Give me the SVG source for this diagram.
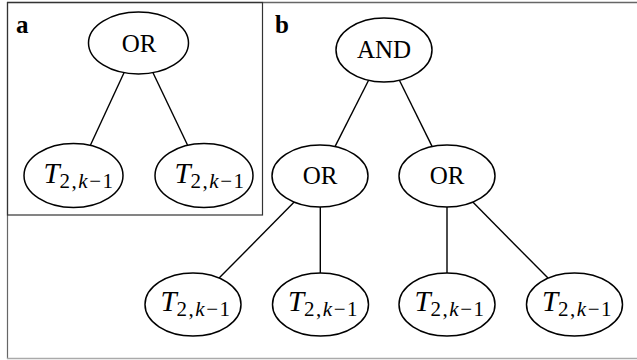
<svg xmlns="http://www.w3.org/2000/svg" width="637" height="360" viewBox="0 0 637 360">
<style>
.node ellipse{fill:#fff;stroke:#000;stroke-width:1.5}
.lbl{font-family:"Liberation Serif",serif;font-size:25px;text-anchor:middle;fill:#000}
.t{font-family:"Liberation Serif",serif;font-size:29px;text-anchor:middle;fill:#000}
.it{font-style:italic}
.sub{font-size:21px;letter-spacing:1.5px}
.panel{font-family:"Liberation Serif",serif;font-size:25px;font-weight:bold;fill:#000}
#edges line{stroke:#000;stroke-width:1.4}
</style>
<g id="frame">
<line x1="7" y1="2.5" x2="637" y2="2.5" stroke="#666" stroke-width="1.5"/>
<line x1="7.5" y1="2" x2="7.5" y2="359" stroke="#666" stroke-width="1.2"/>
<line x1="7" y1="358.5" x2="637" y2="358.5" stroke="#aaa" stroke-width="1.5"/>
<rect x="7.5" y="2.5" width="255" height="212.5" fill="none" stroke="#333" stroke-width="1.2"/>
<text class="panel" x="16" y="33">a</text>
<text class="panel" x="275" y="33">b</text>
</g>
<g id="edges">
<line x1="124" y1="72.7" x2="90.5" y2="145"/>
<line x1="153" y1="72.7" x2="187.5" y2="145"/>
<line x1="368.6" y1="80.3" x2="335" y2="146.6"/>
<line x1="399.4" y1="80.3" x2="432.2" y2="146.6"/>
<line x1="294.2" y1="202.1" x2="219.1" y2="278.1"/>
<line x1="320.3" y1="207" x2="320.3" y2="273"/>
<line x1="447" y1="207" x2="447" y2="273"/>
<line x1="472.8" y1="202.1" x2="548" y2="278.1"/>
</g>
<g id="a_or" class="node"><ellipse cx="138.5" cy="43" rx="50" ry="31"/><text class="lbl" x="139" y="52">OR</text></g>
<g id="a_t1" class="node"><ellipse cx="73.5" cy="175.5" rx="49.5" ry="32"/><text class="t" x="79" y="183"><tspan class="it">T</tspan><tspan class="sub" dy="5">2,<tspan class="it">k</tspan>−1</tspan></text></g>
<g id="a_t2" class="node"><ellipse cx="204" cy="175.5" rx="49" ry="32"/><text class="t" x="210" y="183"><tspan class="it">T</tspan><tspan class="sub" dy="5">2,<tspan class="it">k</tspan>−1</tspan></text></g>
<g id="b_and" class="node"><ellipse cx="384" cy="50" rx="48" ry="32"/><text class="lbl" x="384" y="58">AND</text></g>
<g id="b_or1" class="node"><ellipse cx="320" cy="176" rx="48" ry="31"/><text class="lbl" x="320" y="184">OR</text></g>
<g id="b_or2" class="node"><ellipse cx="447" cy="176" rx="48" ry="31"/><text class="lbl" x="447" y="184">OR</text></g>
<g id="b_t1" class="node"><ellipse cx="193" cy="304.5" rx="48" ry="31.5"/><text class="t" x="196" y="311"><tspan class="it">T</tspan><tspan class="sub" dy="5">2,<tspan class="it">k</tspan>−1</tspan></text></g>
<g id="b_t2" class="node"><ellipse cx="320.5" cy="304.5" rx="48" ry="31.5"/><text class="t" x="323.5" y="311"><tspan class="it">T</tspan><tspan class="sub" dy="5">2,<tspan class="it">k</tspan>−1</tspan></text></g>
<g id="b_t3" class="node"><ellipse cx="447" cy="304.5" rx="48" ry="31.5"/><text class="t" x="450" y="311"><tspan class="it">T</tspan><tspan class="sub" dy="5">2,<tspan class="it">k</tspan>−1</tspan></text></g>
<g id="b_t4" class="node"><ellipse cx="574.5" cy="304.5" rx="48" ry="31.5"/><text class="t" x="577.5" y="311"><tspan class="it">T</tspan><tspan class="sub" dy="5">2,<tspan class="it">k</tspan>−1</tspan></text></g>
</svg>
